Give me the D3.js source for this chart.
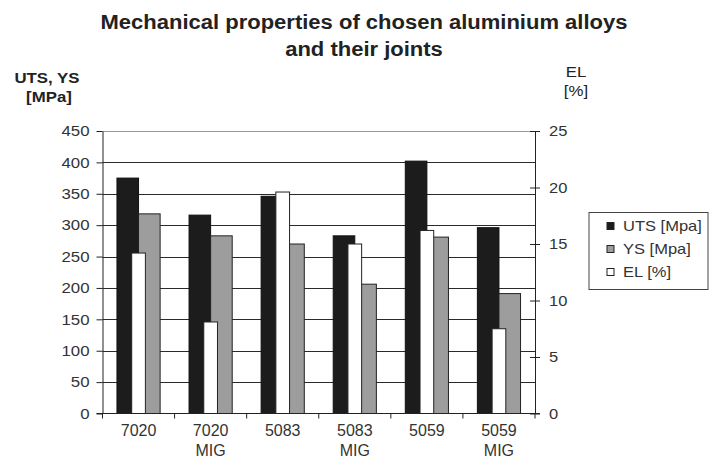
<!DOCTYPE html>
<html>
<head>
<meta charset="utf-8">
<script src="https://cdn.jsdelivr.net/npm/d3@7/dist/d3.min.js"></script>
<style>
  html, body { margin: 0; padding: 0; background: #fff; }
  svg { display: block; font-family: "Liberation Sans", Arial, sans-serif; }
</style>
</head>
<body>
<svg id="chart" width="711" height="461"></svg>
<script>
// Alloy / joint categories (second line of each label after "\n")
const categories = ["7020", "7020\nMIG", "5083", "5083\nMIG", "5059", "5059\nMIG"];
// Ultimate tensile strength, MPa
const uts = [375, 316, 346, 283, 402, 296];
// Yield strength, MPa
const ys = [318, 283, 270, 206, 281, 191];
// Elongation, %
const el = [14.2, 8.1, 19.6, 15.0, 16.2, 7.5];
// Axis ticks
const leftTicks = [0, 50, 100, 150, 200, 250, 300, 350, 400, 450];
const rightTicks = [0, 5, 10, 15, 20, 25];
const seriesNames = ["UTS [Mpa]", "YS [Mpa]", "EL [%]"];
const seriesColors = ["#1c1c1c", "#9d9d9d", "#ffffff"];

const svg = d3.select("#chart");
const plot = { left: 102.5, right: 535, top: 131, bottom: 413.5 };

// Widen text horizontally by a factor (the chart's lettering is set slightly wide)
function widen(sel, factor) {
  sel.each(function () {
    const len = this.getComputedTextLength();
    d3.select(this).attr("textLength", len * factor).attr("lengthAdjust", "spacingAndGlyphs");
  });
}

const x0 = d3.scaleBand().domain(categories).range([plot.left, plot.right]).padding(0);
const w = x0.bandwidth();
// UTS and YS share a cluster in the middle of each group
const x1 = d3.scaleBand().domain(["uts", "ys"]).range([0, w]).paddingInner(0).paddingOuter(0.67);
// EL bar sits narrower, centred over the cluster
const xEl = d3.scaleBand().domain(["el"]).range([0, w]).paddingInner(0.81).paddingOuter(0.405);

const yL = d3.scaleLinear().domain([0, 450]).range([plot.bottom, plot.top]);
const yR = d3.scaleLinear().domain([0, 25]).range([plot.bottom, plot.top]);

// Horizontal gridlines
svg.append("g").selectAll("line").data(leftTicks.filter(d => d > 0)).join("line")
  .attr("x1", plot.left).attr("x2", plot.right)
  .attr("y1", d => Math.round(yL(d)) + 0.5).attr("y2", d => Math.round(yL(d)) + 0.5)
  .attr("stroke", d => d === 450 ? "#9a9a9a" : "#2a2a2a").attr("stroke-width", 1);

// Bars
const groups = svg.append("g").selectAll("g").data(categories).join("g")
  .attr("transform", d => `translate(${x0(d)},0)`);

groups.append("rect")
  .attr("x", x1("uts")).attr("width", x1.bandwidth())
  .attr("y", (d, i) => yL(uts[i])).attr("height", (d, i) => plot.bottom - yL(uts[i]))
  .attr("fill", seriesColors[0]).attr("stroke", "#111").attr("stroke-width", 1);

groups.append("rect")
  .attr("x", x1("ys")).attr("width", x1.bandwidth())
  .attr("y", (d, i) => yL(ys[i])).attr("height", (d, i) => plot.bottom - yL(ys[i]))
  .attr("fill", seriesColors[1]).attr("stroke", "#222").attr("stroke-width", 1);

groups.append("rect")
  .attr("x", xEl("el")).attr("width", xEl.bandwidth())
  .attr("y", (d, i) => yR(el[i])).attr("height", (d, i) => plot.bottom - yR(el[i]))
  .attr("fill", seriesColors[2]).attr("stroke", "#222").attr("stroke-width", 1);

// Left axis
const leftAxis = svg.append("g")
  .attr("transform", `translate(${plot.left},0)`)
  .call(d3.axisLeft(yL).tickValues(leftTicks).tickSize(6).tickPadding(7).tickSizeOuter(0));
leftAxis.select(".domain").attr("stroke", "#222");
leftAxis.selectAll(".tick line").attr("stroke", "#222");
leftAxis.selectAll(".tick text").attr("font-size", 15).attr("fill", "#333")
  .attr("font-family", "Liberation Sans, Arial, sans-serif");
widen(leftAxis.selectAll(".tick text"), 1.12);

// Right axis (ticks cross the axis line)
const rightAxis = svg.append("g")
  .attr("transform", `translate(${plot.right},0)`)
  .call(d3.axisRight(yR).tickValues(rightTicks).tickSize(5).tickPadding(9).tickSizeOuter(0));
rightAxis.select(".domain").attr("stroke", "#222");
rightAxis.selectAll(".tick line").attr("stroke", "#222").attr("x1", -5);
rightAxis.selectAll(".tick text").attr("font-size", 15).attr("fill", "#333")
  .attr("font-family", "Liberation Sans, Arial, sans-serif");
widen(rightAxis.selectAll(".tick text"), 1.1);

// Bottom axis: ticks at group boundaries
const boundaries = d3.range(categories.length + 1).map(i => plot.left + i * w);
const xAxis = svg.append("g");
xAxis.append("line")
  .attr("x1", plot.left - 6).attr("x2", plot.right + 5)
  .attr("y1", plot.bottom).attr("y2", plot.bottom).attr("stroke", "#222");
xAxis.selectAll("line.tk").data(boundaries).join("line").attr("class", "tk")
  .attr("x1", d => d).attr("x2", d => d)
  .attr("y1", plot.bottom).attr("y2", plot.bottom + 5).attr("stroke", "#222");

const xLabels = svg.append("g").selectAll("text").data(categories).join("text")
  .attr("text-anchor", "middle").attr("font-size", 16).attr("fill", "#333")
  .attr("transform", d => `translate(${x0(d) + w / 2},436)`);
xLabels.each(function (d) {
  const lines = d.split("\n");
  d3.select(this).selectAll("tspan").data(lines).join("tspan")
    .attr("x", 0).attr("y", (l, i) => i * 20).text(l => l);
});

// Title
const title = svg.append("g").attr("font-weight", "bold").attr("fill", "#222")
  .attr("text-anchor", "middle");
title.append("text").attr("x", 364).attr("y", 29).attr("font-size", 20)
  .text("Mechanical properties of chosen aluminium alloys");
title.append("text").attr("x", 364).attr("y", 56).attr("font-size", 20)
  .text("and their joints");
widen(title.selectAll("text"), 1.1);

// Axis titles
const axTitles = svg.append("g").attr("fill", "#222").attr("text-anchor", "middle");
axTitles.append("text").attr("x", 47).attr("y", 83).attr("font-size", 15).attr("font-weight", "bold").text("UTS, YS");
axTitles.append("text").attr("x", 49).attr("y", 102).attr("font-size", 15).attr("font-weight", "bold").text("[MPa]");
axTitles.append("text").attr("x", 576).attr("y", 77).attr("font-size", 15).text("EL");
axTitles.append("text").attr("x", 576).attr("y", 96).attr("font-size", 15).text("[%]");
widen(axTitles.selectAll("text"), 1.12);

// Legend
const legend = svg.append("g").attr("transform", "translate(589,212.5)");
legend.append("rect").attr("x", 0).attr("y", 0).attr("width", 119).attr("height", 77)
  .attr("fill", "#fff").attr("stroke", "#444");
const items = legend.selectAll("g.item").data(seriesNames).join("g").attr("class", "item")
  .attr("transform", (d, i) => `translate(18,${13.5 + i * 23})`);
items.append("rect").attr("x", 0).attr("y", -3.5).attr("width", 7).attr("height", 7)
  .attr("fill", (d, i) => seriesColors[i]).attr("stroke", "#222");
items.append("text").attr("x", 16).attr("y", 5).attr("font-size", 15).attr("fill", "#333")
  .text(d => d);
widen(items.selectAll("text"), 1.1);
</script>
</body>
</html>
